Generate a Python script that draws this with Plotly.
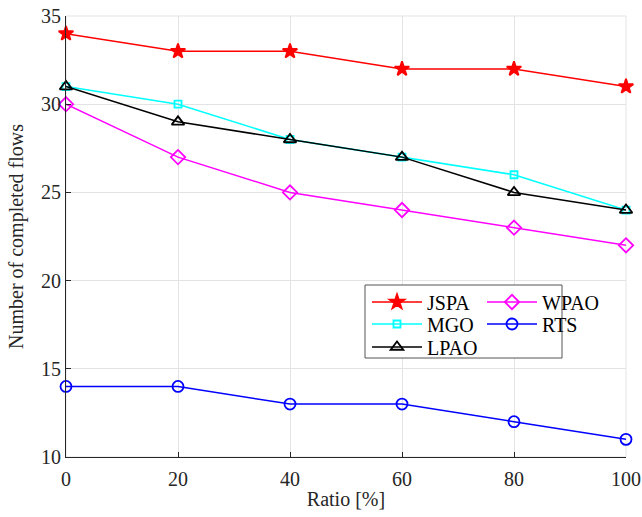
import plotly.graph_objects as go

ratio = [0, 20, 40, 60, 80, 100]
jspa = [34, 33, 33, 32, 32, 31]
mgo = [31, 30, 28, 27, 26, 24]
lpao = [31, 29, 28, 27, 25, 24]
wpao = [30, 27, 25, 24, 23, 22]
rts = [14, 14, 13, 13, 12, 11]

W, H = 642, 517
L, T, R, B = 66, 16, 16, 60
pw, ph = W - L - R, H - T - B

def px_x(p):  # page x -> paper
    return (p - L) / pw

def px_y(p):  # page y -> paper
    return (H - B - p) / ph

# name, values, colour, symbol, size, legend column x (px), legend row y (px)
series = [
    ("JSPA", jspa, "#ff0000", "star", 11, 367, 302),
    ("MGO", mgo, "#00ffff", "square-open", 7, 367, 324),
    ("LPAO", lpao, "#000000", "triangle-up-open", 11, 367, 347),
    ("WPAO", wpao, "#ff00ff", "diamond-open", 11, 482, 302),
    ("RTS", rts, "#0000ff", "circle-open", 11, 482, 324),
]

serif = "Liberation Serif"
font = dict(family=serif, size=20, color="#262626")
lfont = dict(family=serif, size=20, color="#000000")

fig = go.Figure()
legends = {}
for i, (name, vals, col, sym, sz, lx, ly) in enumerate(series):
    key = "legend" if i == 0 else f"legend{i + 1}"
    fig.add_trace(go.Scatter(
        x=ratio, y=vals, name=name, mode="lines+markers",
        line=dict(color=col, width=1.5),
        marker=dict(symbol=sym, size=sz, color=col, line=dict(color=col, width=1.8)),
        cliponaxis=False, legend=key,
    ))
    legends[key] = dict(
        x=px_x(lx), y=px_y(ly), xanchor="left", yanchor="middle",
        bgcolor="rgba(0,0,0,0)", borderwidth=0, itemwidth=50,
        font=lfont, tracegroupgap=0,
    )

fig.update_layout(
    width=W, height=H,
    margin=dict(l=L, r=R, t=T, b=B, autoexpand=False),
    paper_bgcolor="white", plot_bgcolor="white",
    font=font,
    showlegend=True,
    xaxis=dict(
        range=[0, 100], tickvals=ratio, ticks="inside", ticklen=5,
        tickcolor="#262626", showline=True, linecolor="#262626", linewidth=1,
        showgrid=True, gridcolor="#e3e3e3", zeroline=False,
        ticklabeloverflow="allow", ticklabelstandoff=4,
        title=dict(text="Ratio [%]", font=font, standoff=2),
    ),
    yaxis=dict(
        range=[10, 35], tickvals=[10, 15, 20, 25, 30, 35], ticks="inside", ticklen=5,
        tickcolor="#262626", showline=True, linecolor="#262626", linewidth=1,
        showgrid=True, gridcolor="#e3e3e3", zeroline=False,
        ticklabeloverflow="allow",
        title=dict(text="Number of completed flows", font=font, standoff=12),
    ),
    **legends,
)
fig.add_shape(type="rect", xref="paper", yref="paper", x0=0, y0=0, x1=1, y1=1,
              line=dict(color="#e3e3e3", width=1), layer="below")
# legend frame
fig.add_shape(type="rect", xref="paper", yref="paper",
              x0=px_x(365), x1=px_x(562), y0=px_y(358), y1=px_y(285),
              line=dict(color="#555555", width=1), fillcolor="white", layer="above")
fig.write_html(
    "out.html",
    config={"displayModeBar": False},
    post_script="document.body.style.margin='0';document.body.style.overflow='hidden';",
)
